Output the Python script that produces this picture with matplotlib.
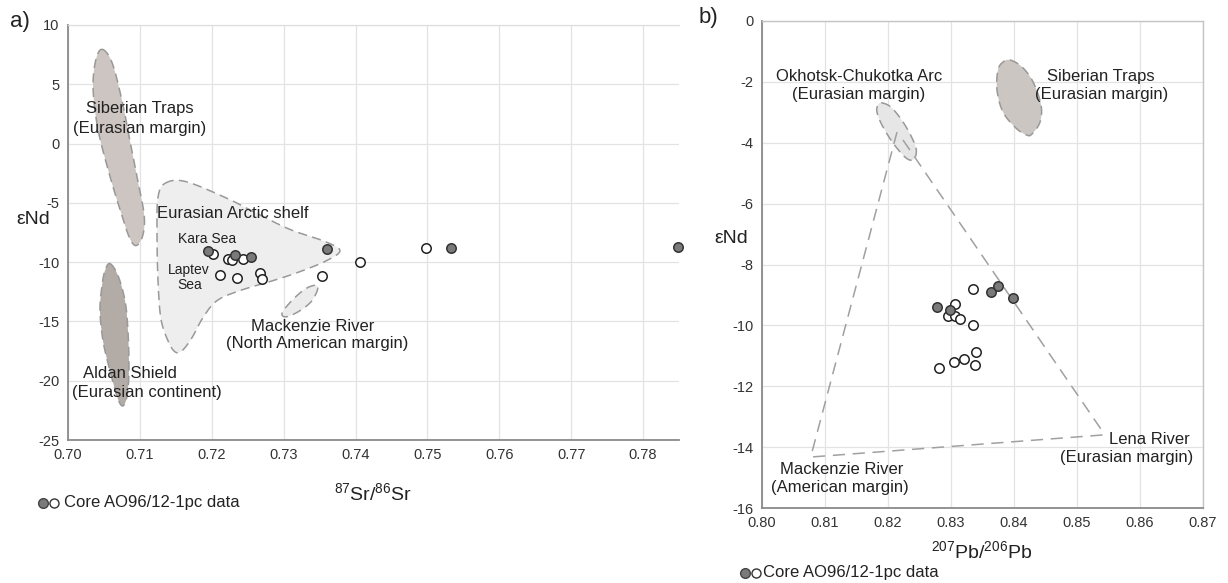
import numpy as np
import matplotlib
matplotlib.use("Agg")
import matplotlib.pyplot as plt
from matplotlib.patches import Polygon

plt.rcParams['font.family'] = ['Liberation Sans', 'DejaVu Sans']
plt.rcParams['mathtext.fontset'] = 'custom'
plt.rcParams['mathtext.rm'] = 'Liberation Sans'
plt.rcParams['mathtext.it'] = 'Liberation Sans:italic'
plt.rcParams['axes.unicode_minus'] = False

# ---------------- Panel a data: 87Sr/86Sr vs eNd ----------------
a_filled_x = [0.7195, 0.7232, 0.7255, 0.7361, 0.7533, 0.7849]
a_filled_y = [-9.1, -9.4, -9.55, -8.9, -8.8, -8.75]
a_open_x = [0.7202, 0.7222, 0.7228, 0.7244, 0.7211, 0.7235, 0.7267, 0.7270, 0.7354, 0.7406, 0.7498]
a_open_y = [-9.3, -9.75, -9.85, -9.7, -11.1, -11.3, -10.9, -11.45, -11.2, -10.0, -8.8]
a_xticks = [0.70, 0.71, 0.72, 0.73, 0.74, 0.75, 0.76, 0.77, 0.78]
a_yticks = [-25, -20, -15, -10, -5, 0, 5, 10]

# source fields (outline vertices, data coords)
a_sib_x = [0.7047, 0.7061, 0.7075, 0.7086, 0.7097, 0.7106, 0.7104, 0.7095, 0.7086, 0.7075, 0.7058, 0.7042, 0.7035, 0.7038]
a_sib_y = [7.95, 6.87, 3.66, 0.28, -3.1, -6.06, -7.75, -8.6, -8.0, -6.06, -2.68, 1.12, 4.5, 6.87]
a_ald_x = [0.70584, 0.70695, 0.70793, 0.70834, 0.70848, 0.70821, 0.70765, 0.70695, 0.70584, 0.70487, 0.70445, 0.70473, 0.70515]
a_ald_y = [-10.12, -11.13, -13.25, -15.78, -19.16, -21.28, -22.12, -21.53, -19.16, -16.63, -14.09, -11.98, -10.71]
a_shelf_x = [0.71349, 0.71627, 0.72184, 0.72629, 0.73088, 0.73574, 0.73783, 0.73602, 0.73227, 0.72851,
             0.72392, 0.72072, 0.71878, 0.71725, 0.71586, 0.71488, 0.71391, 0.71293, 0.71252, 0.71238, 0.71252]
a_shelf_y = [-3.36, -3.19, -4.54, -5.89, -7.24, -8.26, -9.02, -9.86, -10.8, -11.56,
             -12.4, -13.25, -14.68, -16.37, -17.47, -17.56, -16.63, -14.77, -11.56, -7.33, -4.54]
a_mack_x = [0.73477, 0.73394, 0.73227, 0.73046, 0.72976, 0.73088, 0.73268, 0.73408]
a_mack_y = [-12.15, -13.25, -14.09, -14.6, -14.34, -13.41, -12.4, -11.98]

# ---------------- Panel b data: 207Pb/206Pb vs eNd ----------------
b_filled_x = [0.8278, 0.8299, 0.8363, 0.8375, 0.8399]
b_filled_y = [-9.40, -9.49, -8.90, -8.70, -9.10]
b_open_x = [0.8335, 0.8307, 0.8295, 0.8307, 0.8315, 0.8335, 0.8340, 0.8320, 0.8304, 0.8338, 0.8281]
b_open_y = [-8.79, -9.29, -9.69, -9.69, -9.80, -10.0, -10.88, -11.09, -11.19, -11.29, -11.39]
b_xticks = [0.80, 0.81, 0.82, 0.83, 0.84, 0.85, 0.86, 0.87]
b_yticks = [-16, -14, -12, -10, -8, -6, -4, -2, 0]

b_okh_x = [0.81905, 0.82063, 0.8227, 0.82429, 0.82444, 0.82381, 0.8227, 0.8208, 0.81905, 0.81825, 0.81841]
b_okh_y = [-2.69, -2.86, -3.42, -4.07, -4.40, -4.57, -4.47, -4.01, -3.42, -2.99, -2.76]
b_sib_x = [0.83937, 0.84127, 0.84302, 0.84429, 0.84413, 0.84286, 0.84206, 0.84032, 0.83825, 0.8373, 0.83746, 0.83825]
b_sib_y = [-1.28, -1.51, -2.0, -2.76, -3.32, -3.71, -3.75, -3.52, -2.99, -2.27, -1.61, -1.35]
# mixing triangle end-members
b_tri_left_x = [0.82143, 0.80794]
b_tri_left_y = [-3.65, -14.16]
b_tri_bottom_x = [0.8081, 0.85413]
b_tri_bottom_y = [-14.32, -13.60]
b_tri_right_x = [0.82238, 0.85444]
b_tri_right_y = [-3.91, -13.60]


def smooth_closed(xs, ys, n=20):
    P = np.column_stack([xs, ys])
    m = len(P)
    out = []
    for i in range(m):
        p0, p1, p2, p3 = P[(i - 1) % m], P[i], P[(i + 1) % m], P[(i + 2) % m]
        for t in np.linspace(0, 1, n, endpoint=False):
            t2, t3 = t * t, t * t * t
            pt = 0.5 * ((2 * p1) + (-p0 + p2) * t + (2 * p0 - 5 * p1 + 4 * p2 - p3) * t2
                        + (-p0 + 3 * p1 - 3 * p2 + p3) * t3)
            out.append(pt)
    return np.array(out)


def add_field(ax, xs, ys, fc):
    pts = smooth_closed(xs, ys)
    ax.add_patch(Polygon(pts, closed=True, facecolor=fc, edgecolor='#999999',
                         linewidth=1.1, linestyle=(0, (6, 3.5)), zorder=2))


W, H = 1228, 583
fig = plt.figure(figsize=(W / 100, H / 100), dpi=100)


def style_axes(ax):
    ax.grid(True, color='#e3e3e3', linewidth=0.9, zorder=0)
    ax.set_axisbelow(True)
    ax.tick_params(length=0, labelsize=10.5, colors='#333333', pad=6)
    for s in ['left', 'bottom']:
        ax.spines[s].set_color('#8a8a8a')
        ax.spines[s].set_linewidth(1.3)


# ---------- panel a ----------
axa = fig.add_axes([68 / W, 1 - 440 / H, 611 / W, 415 / H])
axa.set_xlim(0.70, 0.785)
axa.set_ylim(-25, 10)
axa.set_xticks(a_xticks)
axa.set_xticklabels([f"{v:.2f}" for v in a_xticks])
axa.set_yticks(a_yticks)
style_axes(axa)
axa.spines['right'].set_visible(False)
axa.spines['top'].set_color('#dddddd')
axa.spines['top'].set_linewidth(0.9)

add_field(axa, a_sib_x, a_sib_y, '#ccc5c1')
add_field(axa, a_ald_x, a_ald_y, '#b3aca6')
add_field(axa, a_shelf_x, a_shelf_y, '#eeeeee')
add_field(axa, a_mack_x, a_mack_y, '#ececec')

mk = dict(linestyle='none', marker='o', markersize=6.8, markeredgewidth=1.1, zorder=5, clip_on=False)
axa.plot(a_open_x, a_open_y, markerfacecolor='white', markeredgecolor='#222222', **mk)
axa.plot(a_filled_x, a_filled_y, markerfacecolor='#7a7a7a', markeredgecolor='#333333', **mk)

tc = '#222222'
fs = 12
axa.text(0.70994, 2.98, 'Siberian Traps', ha='center', va='center', fontsize=fs, color=tc, zorder=6)
axa.text(0.70994, 1.29, '(Eurasian margin)', ha='center', va='center', fontsize=fs, color=tc, zorder=6)
axa.text(0.72288, -5.89, 'Eurasian Arctic shelf', ha='center', va='center', fontsize=fs, color=tc, zorder=6)
axa.text(0.71933, -8.09, 'Kara Sea', ha='center', va='center', fontsize=10, color=tc, zorder=6)
axa.text(0.71683, -10.63, 'Laptev', ha='center', va='center', fontsize=10, color=tc, zorder=6)
axa.text(0.71697, -11.89, 'Sea', ha='center', va='center', fontsize=10, color=tc, zorder=6)
axa.text(0.73408, -15.42, 'Mackenzie River', ha='center', va='center', fontsize=fs, color=tc, zorder=6)
axa.text(0.73463, -16.88, '(North American margin)', ha='center', va='center', fontsize=fs, color=tc, zorder=6)
axa.text(0.70858, -19.39, 'Aldan Shield', ha='center', va='center', fontsize=fs, color=tc, zorder=6)
axa.text(0.71095, -21.0, '(Eurasian continent)', ha='center', va='center', fontsize=fs, color=tc, zorder=6)

# ---------- panel b ----------
axb = fig.add_axes([762 / W, 1 - 508 / H, 441 / W, 487 / H])
axb.set_xlim(0.80, 0.87)
axb.set_ylim(-16, 0)
axb.set_xticks(b_xticks)
axb.set_xticklabels([f"{v:.2f}" for v in b_xticks])
axb.set_yticks(b_yticks)
style_axes(axb)
for s in ['top', 'right']:
    axb.spines[s].set_color('#c4c4c4')
    axb.spines[s].set_linewidth(1.0)

add_field(axb, b_okh_x, b_okh_y, '#e6e6e6')
add_field(axb, b_sib_x, b_sib_y, '#ccc6c3')
lk = dict(color='#a0a0a0', linewidth=1.1, linestyle=(0, (8, 5)), zorder=3)
axb.plot(b_tri_left_x, b_tri_left_y, **lk)
axb.plot(b_tri_bottom_x, b_tri_bottom_y, **lk)
axb.plot(b_tri_right_x, b_tri_right_y, **lk)

axb.plot(b_open_x, b_open_y, markerfacecolor='white', markeredgecolor='#222222', **mk)
axb.plot(b_filled_x, b_filled_y, markerfacecolor='#7a7a7a', markeredgecolor='#333333', **mk)

axb.text(0.81537, -1.83, 'Okhotsk-Chukotka Arc', ha='center', va='center', fontsize=fs, color=tc, zorder=6)
axb.text(0.81537, -2.43, '(Eurasian margin)', ha='center', va='center', fontsize=fs, color=tc, zorder=6)
axb.text(0.85381, -1.81, 'Siberian Traps', ha='center', va='center', fontsize=fs, color=tc, zorder=6)
axb.text(0.85392, -2.43, '(Eurasian margin)', ha='center', va='center', fontsize=fs, color=tc, zorder=6)
axb.text(0.81265, -14.75, 'Mackenzie River', ha='center', va='center', fontsize=fs, color=tc, zorder=6)
axb.text(0.81238, -15.32, '(American margin)', ha='center', va='center', fontsize=fs, color=tc, zorder=6)
axb.text(0.86794, -13.76, 'Lena River', ha='right', va='center', fontsize=fs, color=tc, zorder=6)
axb.text(0.86841, -14.33, '(Eurasian margin)', ha='right', va='center', fontsize=fs, color=tc, zorder=6)


# ---------- figure-level text ----------
def ftext(px, py, s, **kw):
    fig.text(px / W, 1 - py / H, s, **kw)


ftext(20, 22, 'a)', fontsize=16, ha='center', va='center', color=tc)
ftext(708, 18, 'b)', fontsize=16, ha='center', va='center', color=tc)
ftext(33, 220, 'εNd', fontsize=14, ha='center', va='center', color=tc)
ftext(731, 239, 'εNd', fontsize=14, ha='center', va='center', color=tc)
ftext(373, 493, r'$\mathregular{^{87}Sr/^{86}Sr}$', fontsize=14, ha='center', va='center', color=tc)
ftext(982, 551, r'$\mathregular{^{207}Pb/^{206}Pb}$', fontsize=14, ha='center', va='center', color=tc)

for (cx, cy, tx) in [(43, 503, 64), (745, 573, 763)]:
    fig.lines.append(plt.Line2D([cx / W], [1 - cy / H], marker='o', markersize=7, markerfacecolor='#7a7a7a',
                                markeredgecolor='#444444', markeredgewidth=1.0, transform=fig.transFigure))
    fig.lines.append(plt.Line2D([(cx + 11) / W], [1 - cy / H], marker='o', markersize=6.5, markerfacecolor='white',
                                markeredgecolor='#333333', markeredgewidth=1.0, transform=fig.transFigure))
    ftext(tx, cy, 'Core AO96/12-1pc data', fontsize=12, ha='left', va='center', color=tc)

fig.savefig('out.png', dpi=100, facecolor='white')
